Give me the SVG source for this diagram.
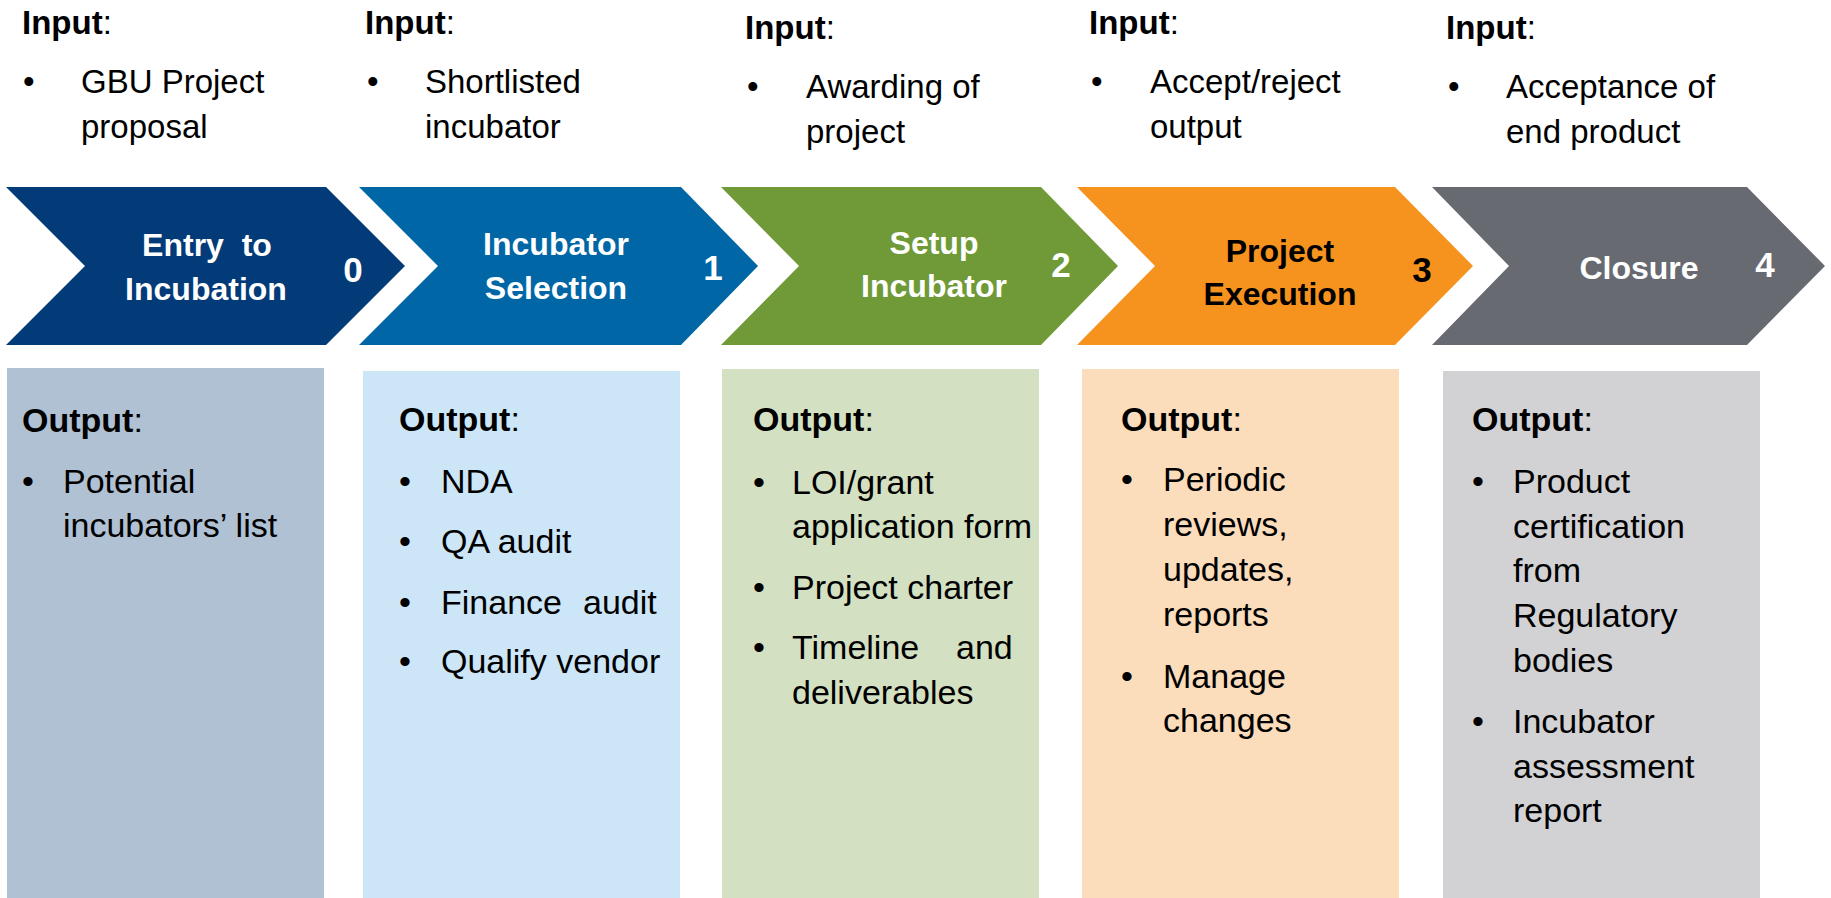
<svg xmlns="http://www.w3.org/2000/svg" width="1831" height="898" viewBox="0 0 1831 898">
<style>
text{font-family:"Liberation Sans",Arial,sans-serif}
.in{font-size:33px;fill:#000}
.out{font-size:34px;fill:#000}
.b{font-weight:bold}
.ct{font-size:32px;font-weight:bold;text-anchor:middle;fill:#fff}
.num{font-size:35px;font-weight:bold;text-anchor:middle;fill:#fff}
.dark{fill:#000}
</style>
<rect width="1831" height="898" fill="#fff"/>

<g id="input-0">
<text class="in" x="22" y="34"><tspan class="b">Input</tspan>:</text>
<text class="in" x="23" y="93">•</text>
<text class="in" x="81" y="93">GBU Project</text>
<text class="in" x="81" y="138">proposal</text>
</g>
<g id="input-1">
<text class="in" x="365" y="34"><tspan class="b">Input</tspan>:</text>
<text class="in" x="367" y="93">•</text>
<text class="in" x="425" y="93">Shortlisted</text>
<text class="in" x="425" y="138">incubator</text>
</g>
<g id="input-2">
<text class="in" x="745" y="39"><tspan class="b">Input</tspan>:</text>
<text class="in" x="747" y="98">•</text>
<text class="in" x="806" y="98">Awarding of</text>
<text class="in" x="806" y="143">project</text>
</g>
<g id="input-3">
<text class="in" x="1089" y="34"><tspan class="b">Input</tspan>:</text>
<text class="in" x="1091" y="93">•</text>
<text class="in" x="1150" y="93">Accept/reject</text>
<text class="in" x="1150" y="138">output</text>
</g>
<g id="input-4">
<text class="in" x="1446" y="39"><tspan class="b">Input</tspan>:</text>
<text class="in" x="1448" y="98">•</text>
<text class="in" x="1506" y="98">Acceptance of</text>
<text class="in" x="1506" y="143">end product</text>
</g>

<g id="stage-0">
<polygon points="6,187 326,187 405,266 326,345 6,345 85,266" fill="#033A78"/>
<text class="ct" x="207" y="256" xml:space="preserve">Entry  to</text>
<text class="ct" x="206" y="300">Incubation</text>
<text class="num" x="353" y="282">0</text>
</g>
<g id="stage-1">
<polygon points="359,187 681,187 758,266 681,345 359,345 438,266" fill="#0066A6"/>
<text class="ct" x="556" y="255">Incubator</text>
<text class="ct" x="556" y="299">Selection</text>
<text class="num" x="713" y="280">1</text>
</g>
<g id="stage-2">
<polygon points="721,187 1041,187 1118,266 1041,345 721,345 799,266" fill="#6F9A37"/>
<text class="ct" x="934" y="254">Setup</text>
<text class="ct" x="934" y="297">Incubator</text>
<text class="num" x="1061" y="277">2</text>
</g>
<g id="stage-3">
<polygon points="1077,187 1395,187 1473,266 1395,345 1077,345 1155,266" fill="#F6921E"/>
<text class="ct dark" x="1280" y="262">Project</text>
<text class="ct dark" x="1280" y="305">Execution</text>
<text class="num dark" x="1422" y="282">3</text>
</g>
<g id="stage-4">
<polygon points="1432,187 1747,187 1825,266 1747,345 1432,345 1509,266" fill="#686A72"/>
<text class="ct" x="1639" y="279">Closure</text>
<text class="num" x="1765" y="277">4</text>
</g>

<g id="output-0">
<rect x="7" y="368" width="317" height="530" fill="#B0C1D4"/>
<text class="out" x="22" y="432"><tspan class="b">Output</tspan>:</text>
<text class="out" x="22" y="493">•</text>
<text class="out" x="63" y="493">Potential</text>
<text class="out" x="63" y="537">incubators’ list</text>
</g>
<g id="output-1">
<rect x="363" y="371" width="317" height="527" fill="#CCE6F7"/>
<text class="out" x="399" y="431"><tspan class="b">Output</tspan>:</text>
<text class="out" x="399" y="493">•</text>
<text class="out" x="441" y="493">NDA</text>
<text class="out" x="399" y="553">•</text>
<text class="out" x="441" y="553">QA audit</text>
<text class="out" x="399" y="614">•</text>
<text class="out" x="441" y="614"><tspan>Finance</tspan><tspan x="583">audit</tspan></text>
<text class="out" x="399" y="673">•</text>
<text class="out" x="441" y="673">Qualify vendor</text>
</g>
<g id="output-2">
<rect x="722" y="369" width="317" height="529" fill="#D4E0C2"/>
<text class="out" x="753" y="431"><tspan class="b">Output</tspan>:</text>
<text class="out" x="753" y="494">•</text>
<text class="out" x="792" y="494">LOI/grant</text>
<text class="out" x="792" y="538">application form</text>
<text class="out" x="753" y="599">•</text>
<text class="out" x="792" y="599">Project charter</text>
<text class="out" x="753" y="659">•</text>
<text class="out" x="792" y="659"><tspan>Timeline</tspan><tspan x="956">and</tspan></text>
<text class="out" x="792" y="704">deliverables</text>
</g>
<g id="output-3">
<rect x="1082" y="369" width="317" height="529" fill="#FBDCBB"/>
<text class="out" x="1121" y="431"><tspan class="b">Output</tspan>:</text>
<text class="out" x="1121" y="491">•</text>
<text class="out" x="1163" y="491">Periodic</text>
<text class="out" x="1163" y="536">reviews,</text>
<text class="out" x="1163" y="581">updates,</text>
<text class="out" x="1163" y="626">reports</text>
<text class="out" x="1121" y="688">•</text>
<text class="out" x="1163" y="688">Manage</text>
<text class="out" x="1163" y="732">changes</text>
</g>
<g id="output-4">
<rect x="1443" y="371" width="317" height="527" fill="#D2D2D4"/>
<text class="out" x="1472" y="431"><tspan class="b">Output</tspan>:</text>
<text class="out" x="1472" y="493">•</text>
<text class="out" x="1513" y="493">Product</text>
<text class="out" x="1513" y="538">certification</text>
<text class="out" x="1513" y="582">from</text>
<text class="out" x="1513" y="627">Regulatory</text>
<text class="out" x="1513" y="672">bodies</text>
<text class="out" x="1472" y="733">•</text>
<text class="out" x="1513" y="733">Incubator</text>
<text class="out" x="1513" y="778">assessment</text>
<text class="out" x="1513" y="822">report</text>
</g>

<g id="connectors"></g>
</svg>
